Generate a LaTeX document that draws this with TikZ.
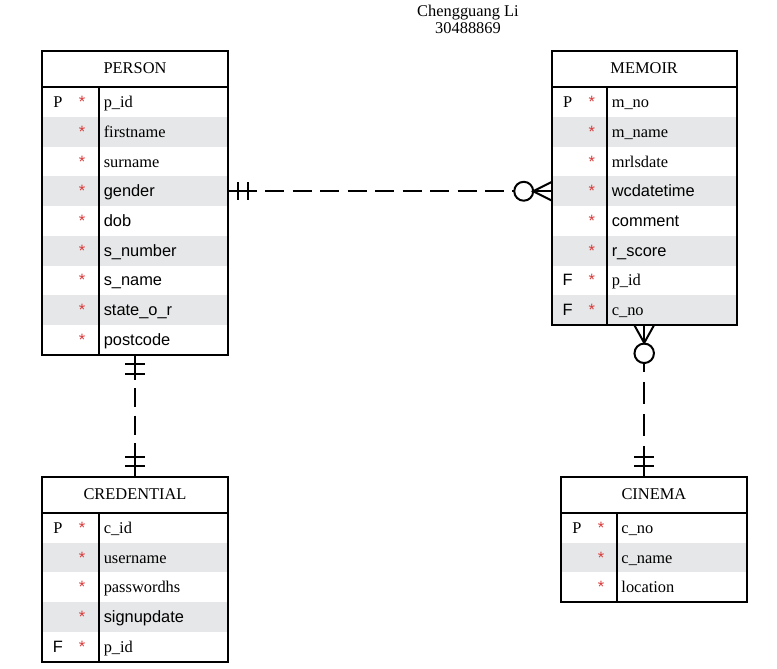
\documentclass[tikz,border=0pt]{standalone}
\usepackage{fontspec}
\setmainfont{Liberation Serif}
\setsansfont{Liberation Sans}
\definecolor{rowgray}{HTML}{E6E7E8}
\definecolor{starred}{HTML}{D93838}
\newcommand\efont{\fontsize{12.3pt}{14pt}\selectfont}
\tikzset{
  tbl/.style={line width=1.5pt},
  conn/.style={line width=1.5pt},
  dashline/.style={conn, dash pattern=on 14.4pt off 6.2pt, dash phase=14.4pt},
  dashlong/.style={conn, dash pattern=on 16.2pt off 7.9pt, dash phase=16.2pt},
  keytxt/.style={anchor=base, inner sep=0pt, font=\efont\rmfamily},
  startxt/.style={anchor=base, inner sep=0pt, text=starred, font=\efont\sffamily},
  coltxt/.style={anchor=base west, inner sep=0pt, font=\efont\rmfamily},
  ttltxt/.style={anchor=base, inner sep=0pt, font=\efont\rmfamily},
}
% #1 name, #2 left, #3 right, #4 divider, #5 top, #6 rows, #7 title, #8 list
\newcommand\ertable[8]{%
  \pgfmathsetmacro\hb{#5+36.3}%
  \pgfmathsetmacro\bt{\hb+#6*29.7}%
  \foreach \k/\t [count=\i] in {#8}{%
    \pgfmathsetmacro\ya{\hb+(\i-1)*29.7}%
    \pgfmathsetmacro\yc{\ya+14.85}%
    \pgfmathsetmacro\yb{\yc+5.5}%
    \ifodd\i\else\fill[rowgray] (#2,\ya) rectangle (#3,\ya+29.7);\fi
    \node[keytxt] (#1-k\i) at (#2+16,\yb) {\k};
    \node[startxt] (#1-s\i) at (#2+40,\yb) {*};
    \node[coltxt] (#1-t\i) at (#4+4.5,\yb) {\t};
    \coordinate (#1-r\i-w) at (#2,\yc);
    \coordinate (#1-r\i-e) at (#3,\yc);
  }
  \draw[tbl] (#2,#5) rectangle (#3,\bt);
  \draw[tbl] (#2,\hb) -- (#3,\hb);
  \draw[tbl] (#4,\hb) -- (#4,\bt);
  \node[ttltxt] (#1-title) at ({(#2+#3)/2},#5+22.3) {#7};
  \coordinate (#1-n) at ({(#2+#3)/2},#5);
  \coordinate (#1-s) at ({(#2+#3)/2},\bt);
}
\begin{document}
\begin{tikzpicture}[x=0.75pt,y=-0.75pt]
\fill[white] (0,0) rectangle (777,668);
\useasboundingbox (0,0) rectangle (777,668);

\node[ttltxt] (author) at (468,16.7) {Chengguang Li};
\node[ttltxt] (sid) at (468,33.3) {30488869};

\ertable{person}{42}{228}{99}{51}{9}{PERSON}{P/p\_id, {}/firstname, {}/surname, {}/{\sffamily gender}, {}/{\sffamily dob}, {}/{\sffamily s\_number}, {}/{\sffamily s\_name}, {}/{\sffamily state\_o\_r}, {}/{\sffamily postcode}}
\ertable{memoir}{551.7}{736.7}{607}{51}{8}{MEMOIR}{P/m\_no, {}/m\_name, {}/mrlsdate, {}/{\sffamily wcdatetime}, {}/{\sffamily comment}, {}/{\sffamily r\_score}, {\sffamily F}/p\_id, {\sffamily F}/c\_no}
\ertable{cred}{42}{228}{99}{476.7}{5}{CREDENTIAL}{P/c\_id, {}/username, {}/passwordhs, {}/{\sffamily signupdate}, {\sffamily F}/p\_id}
\ertable{cinema}{561}{746.7}{616.7}{476.7}{3}{CINEMA}{P/c\_no, {}/c\_name, {}/location}

% PERSON -- MEMOIR (one mandatory to zero-or-many)
\draw[conn] (person-r4-e) -- ([xshift=21.75pt]person-r4-e);
\draw[conn] ([xshift=7.8pt,yshift=6.75pt]person-r4-e) -- ([xshift=7.8pt,yshift=-6.75pt]person-r4-e);
\draw[conn] ([xshift=14.8pt,yshift=6.75pt]person-r4-e) -- ([xshift=14.8pt,yshift=-6.75pt]person-r4-e);
\draw[dashline] ([xshift=21.75pt]person-r4-e) -- ([xshift=-28.1pt]memoir-r4-w);
\draw[conn] ([xshift=-21pt]memoir-r4-w) circle[radius=7.1pt];
\draw[conn] ([yshift=7pt]memoir-r4-w) -- ([xshift=-13.9pt]memoir-r4-w) -- ([yshift=-7pt]memoir-r4-w);
\draw[conn] (memoir-r4-w) -- ([xshift=-13.9pt]memoir-r4-w);

% PERSON -- CREDENTIAL (one mandatory to one mandatory)
\draw[conn] (person-s) -- ([yshift=-19pt]person-s);
\draw[conn] ([xshift=-7.5pt,yshift=-7pt]person-s) -- ([xshift=7.5pt,yshift=-7pt]person-s);
\draw[conn] ([xshift=-7.5pt,yshift=-14.5pt]person-s) -- ([xshift=7.5pt,yshift=-14.5pt]person-s);
\draw[dashline] ([yshift=-19pt]person-s) -- ([yshift=22.5pt]cred-n);
\draw[conn] ([yshift=22.5pt]cred-n) -- (cred-n);
\draw[conn] ([xshift=-7.5pt,yshift=8.25pt]cred-n) -- ([xshift=7.5pt,yshift=8.25pt]cred-n);
\draw[conn] ([xshift=-7.5pt,yshift=15pt]cred-n) -- ([xshift=7.5pt,yshift=15pt]cred-n);

% MEMOIR -- CINEMA (zero-or-many to one mandatory)
\coordinate (mc-end) at (memoir-s |- cinema-n);
\draw[conn] ([xshift=-7.5pt]memoir-s) -- ([yshift=-13.5pt]memoir-s) -- ([xshift=7.5pt]memoir-s);
\draw[conn] (memoir-s) -- ([yshift=-13.5pt]memoir-s);
\draw[conn] ([yshift=-21.3pt]memoir-s) circle[radius=7.3pt];
\draw[conn] ([yshift=-28.6pt]memoir-s) -- ([yshift=-35.1pt]memoir-s);
\draw[dashlong] ([yshift=-35.1pt]memoir-s) -- ([yshift=23pt]mc-end);
\draw[conn] ([yshift=23pt]mc-end) -- (mc-end);
\draw[conn] ([xshift=-7.5pt,yshift=8.25pt]mc-end) -- ([xshift=7.5pt,yshift=8.25pt]mc-end);
\draw[conn] ([xshift=-7.5pt,yshift=15pt]mc-end) -- ([xshift=7.5pt,yshift=15pt]mc-end);
\end{tikzpicture}
\end{document}
